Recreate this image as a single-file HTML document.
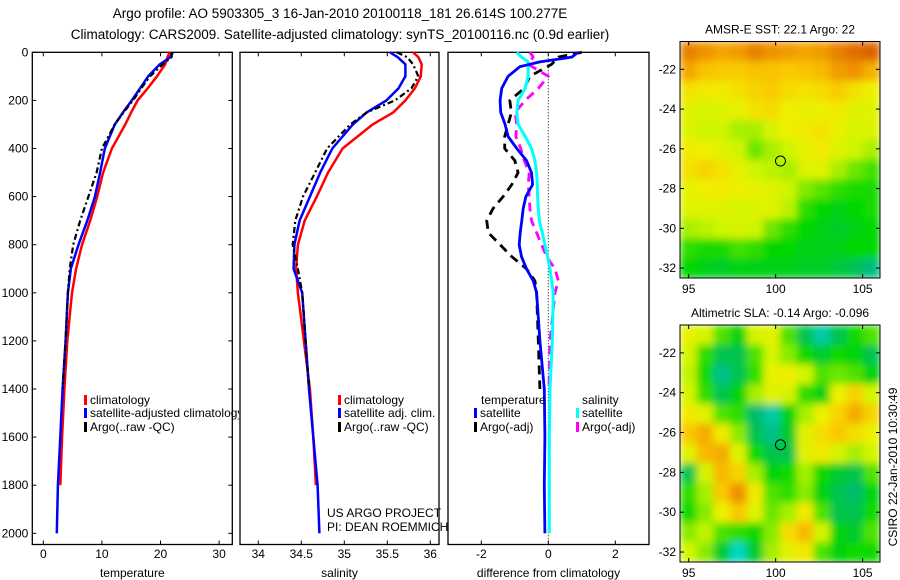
<!DOCTYPE html>
<html><head><meta charset="utf-8"><style>
html,body{margin:0;padding:0;background:#fff;}
svg{display:block;font-family:"Liberation Sans",sans-serif;}
text{fill:#000;}
</style></head><body>
<svg id="fig" width="900" height="580" viewBox="0 0 900 580">
<defs>
<filter id="blur" x="0" y="0" width="1" height="1"><feGaussianBlur stdDeviation="4" edgeMode="duplicate"/></filter>
<clipPath id="clipSST"><rect x="680" y="41.5" width="200" height="236.5"/></clipPath>
<clipPath id="clipSLA"><rect x="680" y="325" width="200" height="237"/></clipPath>
<clipPath id="clipLeg1"><rect x="0" y="380" width="239" height="60"/></clipPath>
</defs>
<text x="340" y="18" font-size="13.5" text-anchor="middle">Argo profile: AO 5903305_3 16-Jan-2010 20100118_181 26.614S 100.277E</text>
<text x="340" y="39" font-size="13.5" text-anchor="middle">Climatology: CARS2009. Satellite-adjusted climatology: synTS_20100116.nc (0.9d earlier)</text>
<g id="g1"></g>
<g id="g2"></g>
<g id="g3"></g>
<g id="m1"></g>
<g id="m2"></g>
<text transform="translate(897,467) rotate(-90)" font-size="12" text-anchor="middle">CSIRO 22-Jan-2010 10:30:49</text>
</svg>
<script>
// ---- profile data ----
const depths = [0,20,50,100,150,200,250,300,400,500,600,700,800,900,1000,1200,1400,1600,1800,2000];
const tempClim = [21.6,21.2,20.8,19.4,17.8,16.1,15.0,14.0,11.7,10.2,9.2,8.0,6.6,5.6,4.9,4.1,3.6,3.2,2.9,2.6];
const tempSat  = [22.1,21.7,19.9,17.9,16.5,15.1,13.6,12.2,10.5,9.7,8.8,7.5,6.0,4.7,4.2,3.8,3.3,2.9,2.5,2.3];
const argoDepths = [0,20,50,100,150,200,250,300,400,500,600,700,800,900,1000,1200,1400];
const tempArgo = [21.9,21.9,20.4,18.2,16.7,15.3,13.7,12.2,10.0,9.1,7.7,6.3,5.1,4.5,4.2,3.8,3.3];
const salClim = [35.80,35.86,35.90,35.89,35.82,35.71,35.57,35.33,34.98,34.81,34.68,34.54,34.46,34.44,34.46,34.53,34.60,34.64,34.67,34.68];
const salSat  = [35.53,35.62,35.71,35.71,35.63,35.49,35.26,35.10,34.86,34.72,34.60,34.48,34.42,34.41,34.51,34.55,34.59,34.64,34.69,34.71];
const salArgo = [35.61,35.73,35.80,35.86,35.78,35.59,35.26,35.07,34.80,34.66,34.52,34.43,34.40,34.46,34.51,34.55,34.59];
const diffDepths = [0,20,40,60,100,150,200,250,300,350,400,450,500,550,600,650,700,750,800,850,900,950,1000,1200,1400,1600,1800,2000];
const dTempSat = [0.89,0.7,-0.25,-0.85,-1.2,-1.39,-1.44,-1.42,-1.29,-1.2,-0.94,-0.65,-0.5,-0.47,-0.67,-0.75,-0.79,-0.84,-0.87,-0.8,-0.65,-0.45,-0.35,-0.25,-0.12,-0.1,-0.12,-0.1];
const dSalSat  = [-0.94,-0.8,-0.6,-0.6,-0.6,-0.69,-0.9,-0.94,-0.9,-0.69,-0.5,-0.4,-0.35,-0.33,-0.32,-0.3,-0.27,-0.18,-0.1,-0.02,0.05,0.1,0.15,0.12,0.05,0.03,0.03,0.03];
const argoDiffDepths = [0,20,50,100,150,200,250,300,350,400,450,500,550,600,650,700,750,800,850,900,950,1000,1200,1400];
const dTempArgo = [1.0,0.3,0.1,-0.55,-0.72,-1.15,-1.1,-1.2,-1.3,-1.3,-1.0,-0.9,-1.09,-1.35,-1.65,-1.84,-1.79,-1.44,-1.09,-0.65,-0.4,-0.35,-0.3,-0.25];
const dSalArgo  = [-0.55,-0.45,-0.6,0.0,-0.3,-0.69,-0.99,-0.94,-0.97,-0.82,-0.72,-0.57,-0.6,-0.57,-0.55,-0.5,-0.35,-0.2,-0.05,0.2,0.3,0.2,0.05,0.02];
const depthTicks = [0,200,400,600,800,1000,1200,1400,1600,1800,2000];
const tempTicks = [0,10,20,30];
const salTicks = [34,34.5,35,35.5,36];
const salTickLabels = ["34","34.5","35","35.5","36"];
const diffTicks = [-2,0,2];

// ---- map data ----
const lonTicks = [95,100,105];
const latTicks = [-22,-24,-26,-28,-30,-32];
const sstGrid = [
[23.7,23.5,23.3,23.4,23.7,23.5,23.4,23.3,23.4,23.7,23.9,24.0],
[23.3,23.0,22.9,22.9,23.0,23.0,22.9,23.0,23.1,23.4,23.5,23.2],
[22.6,22.5,22.5,22.6,22.8,22.9,22.7,22.6,22.7,22.9,22.6,22.4],
[22.2,22.1,22.2,22.3,22.6,22.7,22.4,22.3,22.4,22.5,22.2,22.2],
[22.2,22.0,22.0,21.8,21.8,22.1,22.4,22.5,22.6,22.3,22.1,22.2],
[22.5,22.4,22.2,22.0,21.5,21.8,22.0,22.3,22.5,22.2,22.0,21.8],
[22.6,22.8,22.6,22.3,22.0,21.9,21.8,22.2,22.2,21.8,21.5,21.3],
[22.3,22.4,22.5,22.4,22.3,22.2,22.0,21.6,21.4,21.2,21.1,21.1],
[22.2,22.2,22.2,22.1,22.2,22.2,21.9,21.2,21.0,20.9,21.0,21.1],
[21.8,21.9,22.0,22.1,22.0,21.5,21.2,21.0,20.9,20.8,20.9,21.0],
[21.2,21.1,21.1,21.3,21.2,21.0,21.0,20.9,20.9,20.9,21.0,21.0],
[21.0,20.9,20.8,20.9,20.9,20.9,20.9,20.8,20.8,20.7,20.6,20.4]];
const slaGrid = [
[0.03,0.0,-0.1,-0.16,0.0,0.02,-0.1,-0.2,-0.26,-0.2,-0.14,-0.1],
[0.0,-0.12,-0.2,-0.2,-0.1,0.0,-0.06,-0.14,-0.18,-0.14,-0.16,-0.2],
[-0.02,-0.14,-0.24,-0.2,-0.12,0.03,0.05,0.0,-0.1,-0.08,-0.1,-0.16],
[0.0,-0.12,-0.2,-0.16,-0.04,0.02,0.0,-0.12,-0.16,0.04,0.1,0.0],
[0.06,0.02,-0.1,-0.12,-0.22,-0.26,-0.16,-0.04,0.04,0.1,0.16,0.1],
[0.12,0.16,0.06,-0.06,-0.2,-0.24,-0.18,0.02,0.08,0.12,0.08,0.04],
[0.02,0.14,0.16,0.02,-0.14,-0.2,-0.2,0.02,0.06,0.0,-0.04,0.0],
[-0.2,0.0,0.14,0.1,-0.04,-0.16,-0.14,-0.04,-0.14,-0.18,-0.2,-0.1],
[-0.12,-0.04,0.12,0.2,0.06,-0.1,-0.12,-0.06,-0.16,-0.2,-0.22,-0.16],
[-0.14,-0.06,0.04,0.12,0.02,-0.08,-0.04,0.06,-0.1,-0.2,-0.2,-0.14],
[-0.06,-0.02,-0.1,-0.12,-0.14,-0.06,0.08,0.14,0.0,-0.16,-0.18,-0.1],
[0.0,-0.06,-0.18,-0.28,-0.18,-0.04,0.02,0.06,-0.1,-0.16,-0.14,-0.14]];
const argoLon = [100.277];
const argoLat = [-26.614];

const NS='http://www.w3.org/2000/svg';
function el(tag, attrs, parent){const e=document.createElementNS(NS,tag);for(const k in attrs)e.setAttribute(k,attrs[k]);parent.appendChild(e);return e;}
function txt(parent,x,y,s,size,anchor){const t=el('text',{x:x,y:y,'font-size':size,'text-anchor':anchor||'start'},parent);t.textContent=s;return t;}

const yTop=52.3, yBot=544.5;
const yD = d => 52.3 + 0.2405*d;
const panels = {
  p1:{g:document.getElementById('g1'),x0:32.3,x1:232.3,f:v=>43.3+5.86*v},
  p2:{g:document.getElementById('g2'),x0:240,x1:439,f:v=>344.3+86*(v-35)},
  p3:{g:document.getElementById('g3'),x0:448,x1:649,f:v=>548.3+33.5*v}
};
function frame(p, xt, xl, title, ylabels){
  const g=p.g;
  const r=el('rect',{x:p.x0,y:yTop,width:p.x1-p.x0,height:yBot-yTop,fill:'none',stroke:'#000','stroke-width':1.3},g);
  
  
  xt.forEach((v,i)=>{const x=p.f(v);
    el('line',{x1:x,y1:yBot,x2:x,y2:yBot-4,stroke:'#000'},g);
    el('line',{x1:x,y1:yTop,x2:x,y2:yTop+4,stroke:'#000'},g);
    const t=txt(g,x,558,xl[i],12,'middle');
    
    
  });
  const at=txt(g,(p.x0+p.x1)/2,577,title,12,'middle');
  
  
  if(ylabels){depthTicks.forEach(d=>{const y=yD(d);
    el('line',{x1:p.x0,y1:y,x2:p.x0+4,y2:y,stroke:'#000'},g);
    el('line',{x1:p.x1,y1:y,x2:p.x1-4,y2:y,stroke:'#000'},g);
    const t=txt(g,p.x0-4,y+4,String(d),12,'end');
    
    
  });}
}
function line(p, ds, vs, color, w, dash, name){
  const pts=ds.map((d,i)=>p.f(vs[i]).toFixed(1)+','+yD(d).toFixed(1)).join(' ');
  const pl=el('polyline',{points:pts,fill:'none',stroke:color,'stroke-width':w,'stroke-linejoin':'round'},p.g);
  if(dash)pl.setAttribute('stroke-dasharray',dash);
  
  
}
function legend(g,x,y,color,label){
  const r=el('rect',{x:x,y:y-9,width:3,height:10,fill:color},g);
  
  
  const t=txt(g,x+6,y,label,12);
  
  
}
const p1=panels.p1,p2=panels.p2,p3=panels.p3;
frame(p1,tempTicks,tempTicks.map(String),'temperature',true);
frame(p2,salTicks,salTickLabels,'salinity',false);
frame(p3,diffTicks,['-2','0','2'],'difference from climatology',false);

line(p1,depths.slice(0,19),tempClim.slice(0,19),'#f00',2.5,null,'temp-climatology-line');
line(p1,depths,tempSat,'#00f',2.5,null,'temp-satellite-line');
line(p1,argoDepths,tempArgo,'#000',2.2,'6,3,2,3','temp-argo-line');
line(p2,depths.slice(0,19),salClim.slice(0,19),'#f00',2.5,null,'sal-climatology-line');
line(p2,depths,salSat,'#00f',2.5,null,'sal-satellite-line');
line(p2,argoDepths,salArgo,'#000',2.2,'6,3,2,3','sal-argo-line');

const zl=el('line',{x1:p3.f(0),y1:yTop,x2:p3.f(0),y2:yBot,stroke:'#000','stroke-width':1,'stroke-dasharray':'1,2'},p3.g);


line(p3,argoDiffDepths,dTempArgo,'#000',2.8,'9,6','diff-temp-argo-line');
line(p3,argoDiffDepths,dSalArgo,'#f0f',2.8,'9,6','diff-sal-argo-line');
line(p3,diffDepths,dSalSat,'#0ff',3,null,'diff-sal-satellite-line');
line(p3,diffDepths,dTempSat,'#00f',2.8,null,'diff-temp-satellite-line');

const leg1=el('g',{'clip-path':'url(#clipLeg1)'},p1.g);


legend(leg1,84,404,'#f00','climatology');
legend(leg1,84,417,'#00f','satellite-adjusted climatology');
legend(leg1,84,431,'#000','Argo(..raw -QC)');
legend(p2.g,338,404,'#f00','climatology');
legend(p2.g,338,417,'#00f','satellite adj. clim.');
legend(p2.g,338,431,'#000','Argo(..raw -QC)');
const lt1=txt(p3.g,481,404,'temperature',12);


const lt2=txt(p3.g,582,404,'salinity',12);


legend(p3.g,474,417,'#00f','satellite');
legend(p3.g,474,431,'#000','Argo(-adj)');
legend(p3.g,576,417,'#0ff','satellite');
legend(p3.g,576,431,'#f0f','Argo(-adj)');
const c1=txt(p2.g,327,517,'US ARGO PROJECT',12);


const c2=txt(p2.g,327,531,'PI: DEAN ROEMMICH',12);



// ---- maps ----
const stops=[[0,[0,225,220]],[0.12,[0,185,120]],[0.25,[0,215,0]],[0.38,[120,232,0]],[0.48,[205,245,0]],[0.58,[240,240,0]],[0.70,[250,200,0]],[0.82,[240,150,0]],[0.92,[225,110,0]],[1,[200,75,0]]];
function cmap(t){t=Math.max(0,Math.min(1,t));for(let i=1;i<stops.length;i++){if(t<=stops[i][0]){const a=stops[i-1],b=stops[i],f=(t-a[0])/(b[0]-a[0]);return 'rgb('+a[1].map((c,k)=>Math.round(c+(b[1][k]-c)*f)).join(',')+')';}}return 'rgb(200,75,0)';}
function drawMap(g,top,bottom,grid,norm,title,clip){
  const lon0=94.5,lon1=106.0,lat0=-20.6,lat1=-32.5,x0=680,x1=880;
  const X=lon=>x0+(lon-lon0)*(x1-x0)/(lon1-lon0);
  const Y=lat=>top+(lat-lat0)*(bottom-top)/(lat1-lat0);
  const cg=el('g',{'clip-path':'url(#'+clip+')'},g);
  const bg=el('g',{filter:'url(#blur)'},cg);
  const nr=grid.length,nc=grid[0].length;
  const dLon=(lon1-lon0)/nc,dLat=(lat1-lat0)/nr;
  grid.forEach((row,i)=>row.forEach((v,j)=>{
    const xa=X(lon0+j*dLon),xb=X(lon0+(j+1)*dLon),ya=Y(lat0+i*dLat),yb=Y(lat0+(i+1)*dLat);
    const r=el('rect',{x:xa.toFixed(2),y:ya.toFixed(2),width:(xb-xa+0.6).toFixed(2),height:(yb-ya+0.6).toFixed(2),fill:cmap(norm(v))},bg);
    
    
  }));
  const fr=el('rect',{x:x0,y:top,width:x1-x0,height:bottom-top,fill:'none',stroke:'#000','stroke-width':1},g);
  
  
  lonTicks.forEach(l=>{const x=X(l);
    el('line',{x1:x,y1:bottom,x2:x,y2:bottom-4,stroke:'#000'},g);
    el('line',{x1:x,y1:top,x2:x,y2:top+4,stroke:'#000'},g);
    const t=txt(g,x,bottom+15,String(l),12,'middle');
    
    
  });
  latTicks.forEach(l=>{const y=Y(l);
    el('line',{x1:x0,y1:y,x2:x0+4,y2:y,stroke:'#000'},g);
    el('line',{x1:x1,y1:y,x2:x1-4,y2:y,stroke:'#000'},g);
    const t=txt(g,x0-4,y+4,String(l),12,'end');
    
    
  });
  argoLon.forEach((lo,i)=>{
    const c=el('circle',{cx:X(lo),cy:Y(argoLat[i]),r:5,fill:'none',stroke:'#000','stroke-width':1},g);
    
    
  });
  const tt=txt(g,(x0+x1)/2,top-8,title,12,'middle');
  
  
}
drawMap(document.getElementById('m1'),41.5,278,sstGrid,v=>(v-19.9)/4.35,'AMSR-E SST: 22.1 Argo: 22','clipSST');
drawMap(document.getElementById('m2'),325,562,slaGrid,v=>(v+0.3)/0.6,'Altimetric SLA: -0.14 Argo: -0.096','clipSLA');
</script>
</body></html>
